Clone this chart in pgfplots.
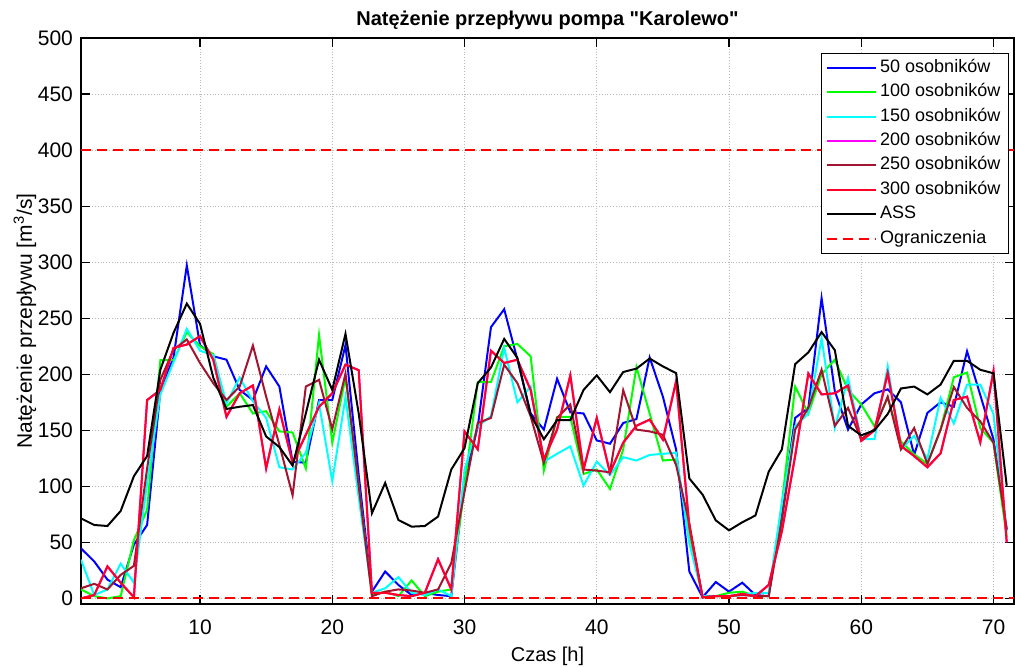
\documentclass[border=0pt]{standalone}
\usepackage{pgfplots}
\pgfplotsset{compat=1.18}
\usepackage{pgfplotstable}
\usepackage{fontspec}
\setmainfont{Liberation Sans}[Ligatures=TeXOff]

\definecolor{cA}{rgb}{0,0,1}
\definecolor{cB}{rgb}{0,1,0}
\definecolor{cC}{rgb}{0,1,1}
\definecolor{cD}{rgb}{1,0,1}
\definecolor{cE}{rgb}{0.635,0.078,0.184}
\definecolor{cF}{rgb}{1,0,0.15}

% x = czas [h]; a..f = 50..300 osobnikow; s = ASS
\pgfplotstableread{
x  a     b     c     d     e     f     s
1  44.6  8     34.5  0     9     0     71.4
2  33    2     3     3     13    3     65.5
3  16.7  0     8     28.6  8     28.6  64.6
4  10    2     31    14    21    14    78
5  48    52    14    1     29    1     109
6  65.5  79    103   177   116   177   127
7  185   212.5 182   186   195   186   204
8  215   212.5 211   223.5 222   223.5 237
9  297   237.5 240.5 226.5 231   226.5 263
10 226   225   221   234   210   234   245
11 216   218   217   213   192   213   197
12 213   171   174   162   177   162   169
13 186   183   197   183   189   183   171
14 177   165   176   190   225.6 190   172.5
15 207   167   161   116   180   116   144.5
16 189   149   117   168.5 137   168.5 135
17 122   148   115   121   92    121   118.5
18 121   116   130   146   189   146   165
19 177   235   174   171   195   171   213
20 177   139   104.5 183   151   183   186
21 226   197   179.5 208.6 200.6 208.6 236
22 110   100   90    203.6 100   203.6 165
23 6     3     5     5     2     5     76
24 24    6     9     5     6     5     103
25 12    2     19    3     8     3     70
26 3     16    5     2     7     2     64
27 5     2     3     5     5     5     64.6
28 3     6     8     35    8     35    73
29 2     8     2     8     31.5  8     115
30 106   100   115   149   95    149   134
31 153   193   153.6 133   156.5 133   192
32 242   193   162.5 221   161   221   206
33 258   225   223.5 210   208.6 210   231.5
34 213   227   175   213   192   213   214.6
35 165   216   189   186   162.5 186   164
36 150.6 114   122   124   121   124   142
37 196   162   129   150.6 161   150.6 159
38 166   162   135.7 199   173   199   159
39 165   111   100.6 115   115   115   186
40 141   115   122   161   114   161   199
41 138   97.6  110   112   112.5 112   184
42 156.5 133   126   139   185.7 139   202
43 160   206.5 123   154   150.6 154   205
44 215   165   128   159.5 149   159.5 214
45 180   123   129   141.7 146   141.7 207
46 133   124   130   193.8 119   193.8 201
47 24    58    49    64    67    64    107
48 1     1     2     1     1     1     92.6
49 14.6  2     2     2     2     2     69.6
50 6     5     2     2     2     2     60.7
51 14    6     3     4     3     4     67.9
52 3     2     5     2     2     2     74
53 2     2     5     12    2     12    113
54 80    85    85    60    70    60    133
55 161   189   153.6 127   150.6 127   209
56 170   165   165   200.6 170   200.6 219.5
57 268   200   232   182   204   182   237.6
58 185   213   152   183   154   183   221.5
59 150.6 186   196.7 190   170   190   154
60 173   173   142   140.5 142   140.5 145.5
61 183   153.6 142   150   151   150   150
62 186.5 179   207   201   180   201   164.5
63 175   140   133   136   133   136   187.3
64 128   128.5 145   127   152   127   189
65 165.5 120   124.5 117   120   117   182
66 175   151   179   129.5 150.5 129.5 190.8
67 171   197.3 156   177   188.6 177   212
68 220.5 201.5 190.8 180   170   180   212
69 181.5 152   190.8 139.2 158   139.2 204
70 141.8 138.8 164.5 202.8 138.8 202.8 200.8
71 61    55    59    50    61.8  50    100.5
}\flowdata

\begin{document}
\begin{tikzpicture}
\begin{axis}[
  scale only axis,
  width=466.5pt, height=283pt,
  xmin=1, xmax=71.55, ymin=-5, ymax=500,
  xtick={10,20,...,70},
  ytick={0,50,...,500},
  tick align=inside,
  major tick length=4.5pt,
  every tick/.style={black, line width=0.6pt},
  axis line style={line width=0.6pt},
  grid=major,
  major grid style={densely dotted, gray!55, line width=0.5pt},
  /pgf/number format/assume math mode=true,
  tick label style={font=\fontsize{10.5}{12}\selectfont},
  xticklabel style={yshift=-4.5pt},
  yticklabel style={xshift=-0.5pt},
  every axis title shift=0pt,
  title={Natężenie przepływu pompa "Karolewo"},
  title style={at={(rel axis cs:0.5,1)}, anchor=base, yshift=6.5pt, inner sep=0pt,
    font=\bfseries\fontsize{10}{12}\selectfont},
  xlabel={Czas [h]},
  xlabel style={at={(rel axis cs:0.5,0)}, anchor=north, yshift=-21.5pt, inner sep=0pt,
    font=\fontsize{10}{12}\selectfont},
  ylabel={Natężenie przepływu [m\textsuperscript{3}/s]},
  ylabel style={at={(rel axis cs:-0.06,0.5)}, anchor=center,
    font=\fontsize{10.5}{12}\selectfont},
  legend cell align=left,
  legend image code/.code={\draw[#1] (0pt,0pt) -- (24.5pt,0pt);},
  legend style={at={(rel axis cs:1,1)}, anchor=north east, xshift=-2.7pt, yshift=-7.3pt,
    draw=black, line width=0.5pt, fill=white,
    font=\fontsize{9}{10}\selectfont,
    inner xsep=2.5pt, inner ysep=1.2pt, row sep=0pt,
    nodes={inner sep=1.4pt, text height=7pt, text depth=2.4pt}},
  every axis plot/.append style={line width=1pt},
]
\addplot[cA] table[x=x, y=a] {\flowdata};
\addlegendentry{50 osobników}
\addplot[cB] table[x=x, y=b] {\flowdata};
\addlegendentry{100 osobników}
\addplot[cC] table[x=x, y=c] {\flowdata};
\addlegendentry{150 osobników}
\addplot[cD] table[x=x, y=d] {\flowdata};
\addlegendentry{200 osobników}
\addplot[cE] table[x=x, y=e] {\flowdata};
\addlegendentry{250 osobników}
\addplot[cF] table[x=x, y=f] {\flowdata};
\addlegendentry{300 osobników}
\addplot[black] table[x=x, y=s] {\flowdata};
\addlegendentry{ASS}
\addplot[red, dash pattern=on 5pt off 3pt] coordinates {(1,400) (71.55,400)};
\addlegendentry{Ograniczenia}
\addplot[red, dash pattern=on 5pt off 3pt, forget plot] coordinates {(1,0) (71.55,0)};
\end{axis}
\pgfresetboundingbox
\useasboundingbox ([xshift=-40.5pt,yshift=-31pt]current axis.south west)
  rectangle ([xshift=0.5pt,yshift=19pt]current axis.north east);
\end{tikzpicture}
\end{document}
